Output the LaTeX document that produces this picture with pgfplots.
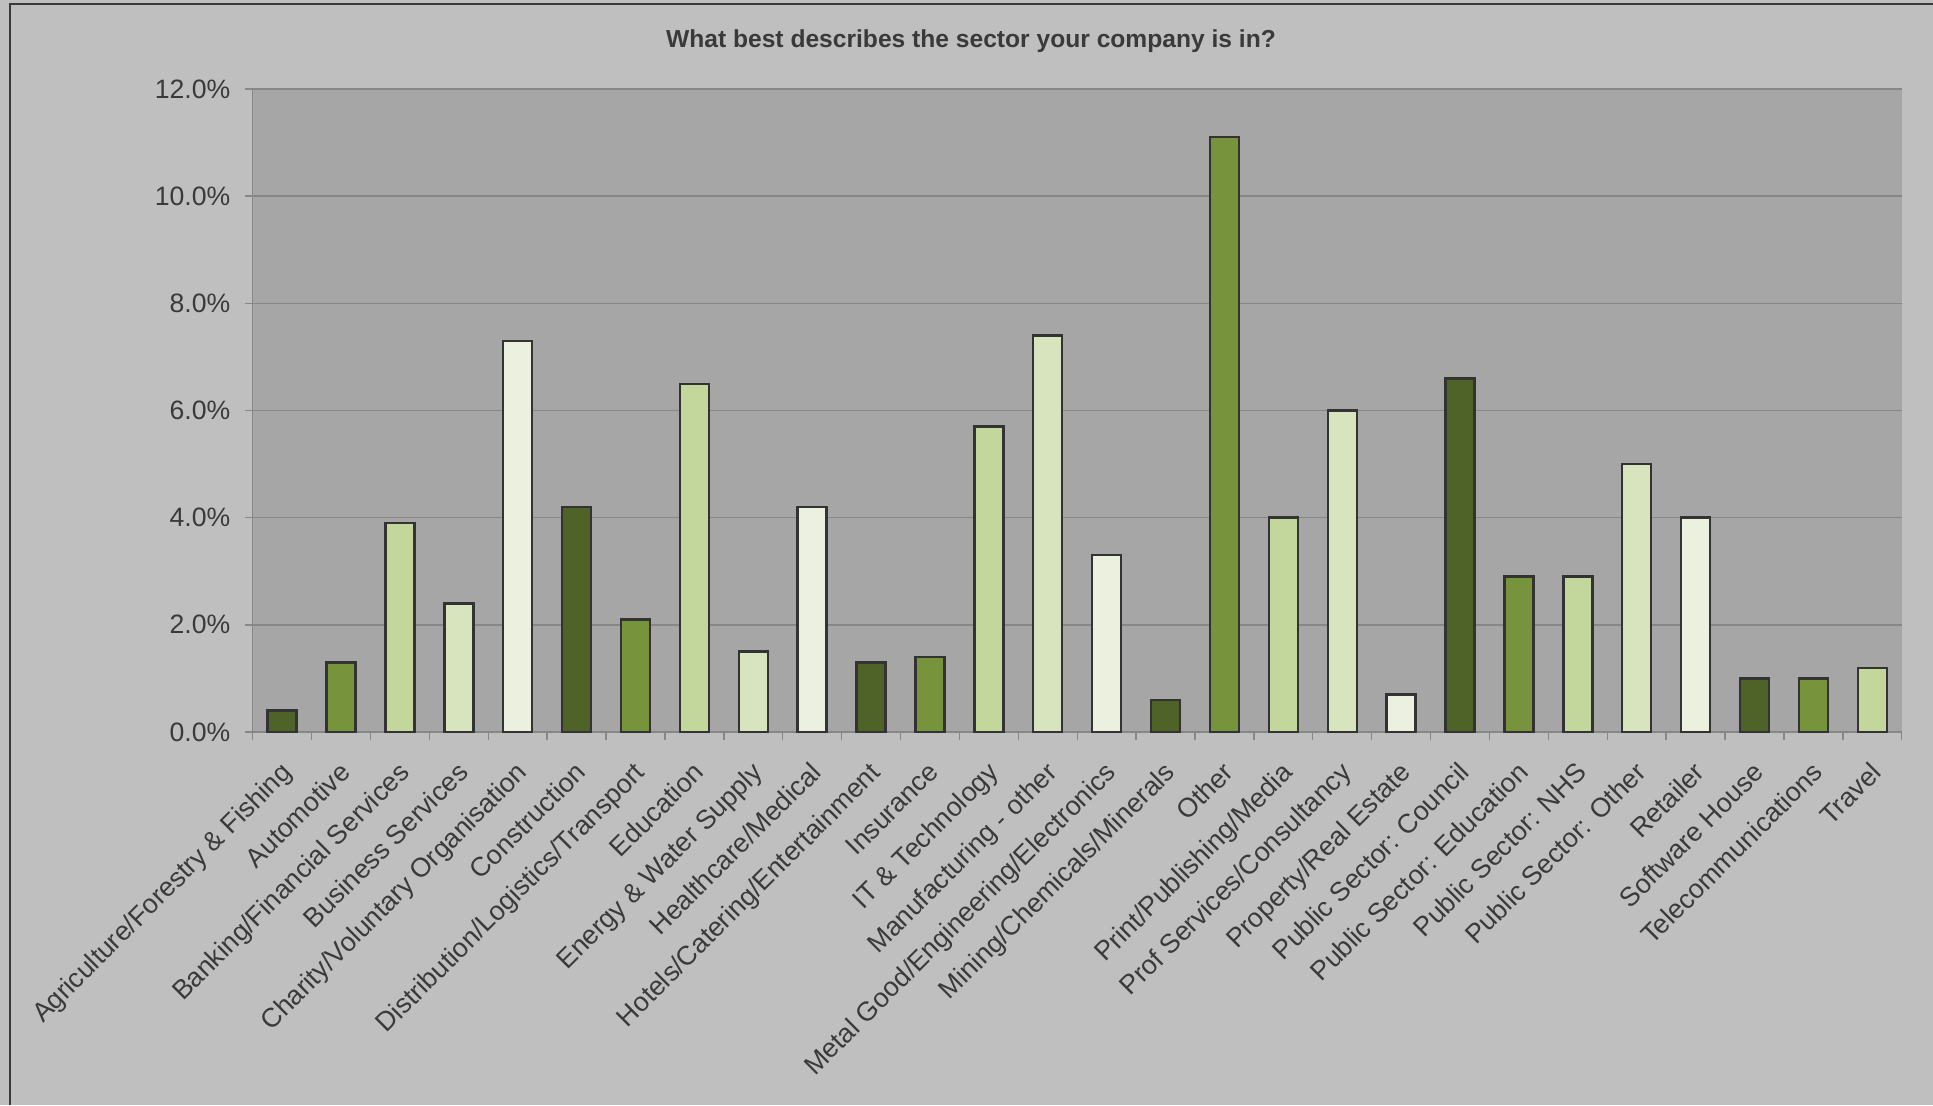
\documentclass[border=0pt]{standalone}
\usepackage{pgfplots}
\pgfplotsset{compat=1.18}
\usepackage{fontspec}
\setmainfont{Liberation Sans}
\definecolor{bgout}{HTML}{BFBFBF}
\definecolor{bgplot}{HTML}{A6A6A6}
\definecolor{gridc}{HTML}{878787}
\definecolor{txt}{HTML}{3A3A3A}
\definecolor{cA}{HTML}{4F6228}
\definecolor{cB}{HTML}{77933C}
\definecolor{cC}{HTML}{C3D69B}
\definecolor{cD}{HTML}{D7E4BD}
\definecolor{cE}{HTML}{EBF1DE}
\begin{document}
\begin{tikzpicture}
\fill[bgout] (0,0) rectangle (966.5pt,552.5pt);
\draw[color=txt, line width=0.8pt] (5pt,0) -- (5pt,550.5pt) -- (966.5pt,550.5pt);
\begin{axis}[
 at={(126.35pt,186.5pt)}, anchor=south west,
 scale only axis, width=824.5pt, height=321.5pt,
 xmin=-0.5, xmax=27.5, ymin=0, ymax=12,
 axis background/.style={fill=bgplot},
 ybar, bar width=14.5pt, bar shift=0pt,
 ymajorgrids, grid style={gridc, line width=0.7pt},
 axis x line*=bottom, axis y line*=left,
 axis line style={gridc, line width=0.7pt},
 tick align=outside, major tick length=4pt, minor tick length=4pt,
 tick style={gridc, line width=0.7pt},
 ytick={0,2,4,6,8,10,12},
 yticklabels={0.0\%,2.0\%,4.0\%,6.0\%,8.0\%,10.0\%,12.0\%},
 xtick={0,...,27},
 major x tick style={draw=none},
 minor xtick={-0.5,0.5,...,27.5},
 xticklabels={Agriculture/Forestry \& Fishing,Automotive,Banking/Financial Services,Business Services,Charity/Voluntary Organisation,Construction,Distribution/Logistics/Transport,Education,Energy \& Water Supply,Healthcare/Medical,Hotels/Catering/Entertainment,Insurance,IT \& Technology,Manufacturing - other,Metal Good/Engineering/Electronics,Mining/Chemicals/Minerals,Other,Print/Publishing/Media,Prof Services/Consultancy,Property/Real Estate,Public Sector: Council,Public Sector: Education,Public Sector: NHS,Public Sector: Other,Retailer,Software House,Telecommunications,Travel},
 yticklabel style={font=\fontsize{13.3}{15}\selectfont, text=txt, xshift=-3.7pt},
 xticklabel style={xshift=-1.5pt, yshift=-10pt, rotate=45, anchor=north east, inner sep=0pt, font=\fontsize{13.4}{16}\selectfont, text=txt},
 every axis plot/.append style={draw=black!80, line width=1.2pt},
]
\addplot[fill=cA] coordinates {(0,0.4) (5,4.2) (10,1.3) (15,0.6) (20,6.6) (25,1.0)};
\addplot[fill=cB] coordinates {(1,1.3) (6,2.1) (11,1.4) (16,11.1) (21,2.9) (26,1.0)};
\addplot[fill=cC] coordinates {(2,3.9) (7,6.5) (12,5.7) (17,4.0) (22,2.9) (27,1.2)};
\addplot[fill=cD] coordinates {(3,2.4) (8,1.5) (13,7.4) (18,6.0) (23,5.0)};
\addplot[fill=cE] coordinates {(4,7.3) (9,4.2) (14,3.3) (19,0.7) (24,4.0)};
\end{axis}
\node[font=\fontsize{12.3}{14}\selectfont\bfseries, text=txt] at (485.5pt,532pt) {What best describes the sector your company is in?};
\pgfresetboundingbox
\useasboundingbox (0,0) rectangle (966.5pt,552.5pt);
\end{tikzpicture}
\end{document}
